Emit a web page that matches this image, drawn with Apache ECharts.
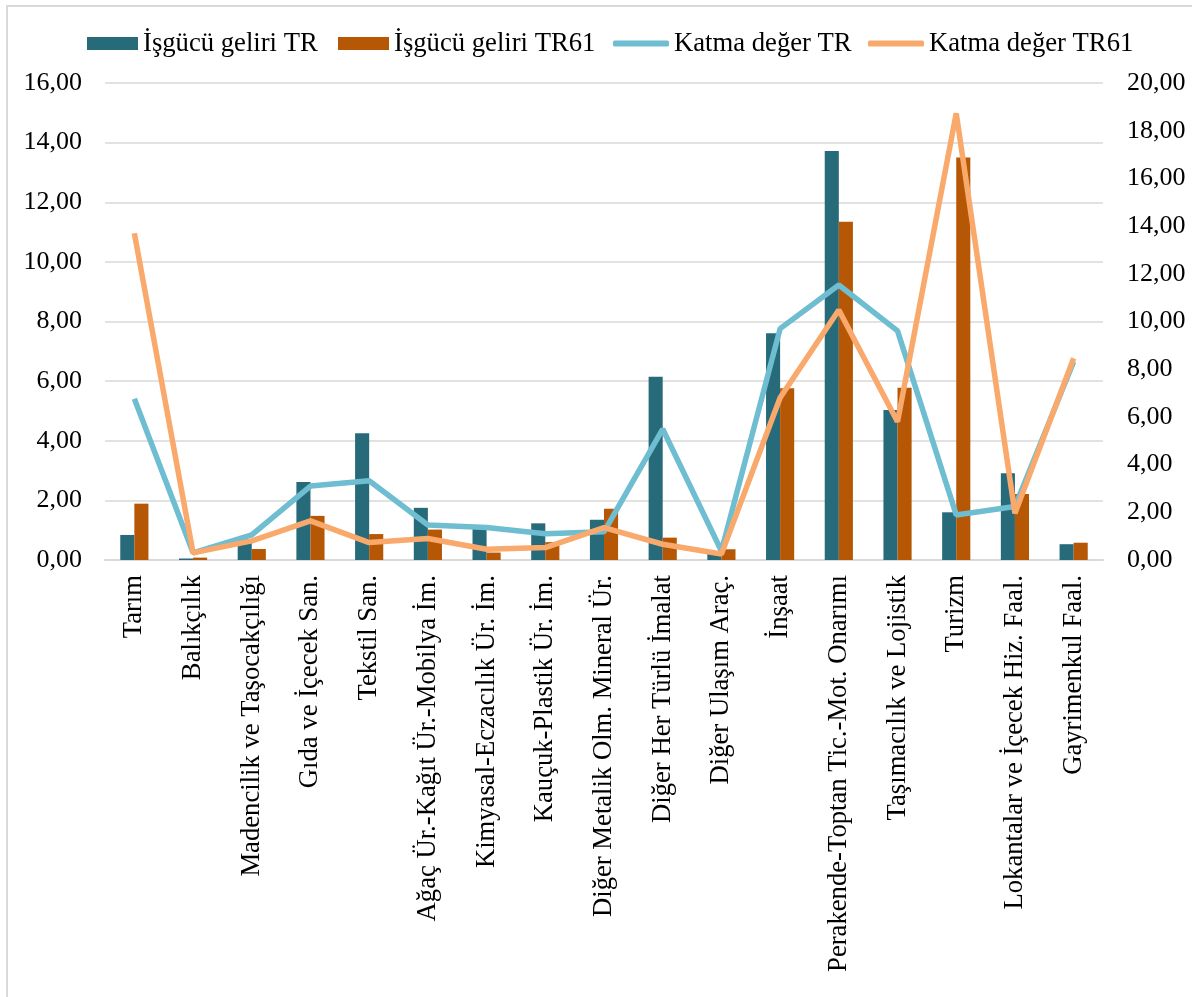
<!DOCTYPE html>
<html>
<head>
<meta charset="utf-8">
<script src="https://cdn.jsdelivr.net/npm/echarts@6/dist/echarts.min.js"></script>
<style>
  html, body { margin: 0; padding: 0; background: #fff; }
  #frame { position: absolute; left: 6px; top: 5px; width: 1200px; height: 1000px; border: 2px solid #d9d9d9; box-sizing: border-box; }
  #chart { position: absolute; left: 0; top: 0; width: 1192px; height: 997px; }
</style>
</head>
<body>
<div id="frame"></div>
<div id="chart"></div>
<script>
const categories = [
  "Tarım", "Balıkçılık", "Madencilik ve Taşocakçılığı", "Gıda ve İçecek San.",
  "Tekstil San.", "Ağaç Ür.-Kağıt Ür.-Mobilya İm.", "Kimyasal-Eczacılık Ür. İm.",
  "Kauçuk-Plastik Ür. İm.", "Diğer Metalik Olm. Mineral Ür.", "Diğer Her Türlü İmalat",
  "Diğer Ulaşım Araç.", "İnşaat", "Perakende-Toptan Tic.-Mot. Onarımı",
  "Taşımacılık ve Lojistik", "Turizm", "Lokantalar ve İçecek Hiz. Faal.", "Gayrimenkul Faal."
];
const seriesNames = ['İşgücü geliri TR', 'İşgücü geliri TR61', 'Katma değer TR', 'Katma değer TR61'];
const isgucuTR   = [0.84, 0.05, 0.70, 2.62, 4.25, 1.75, 1.09, 1.23, 1.35, 6.15, 0.22, 7.61, 13.72, 5.03, 1.60, 2.91, 0.53];
const isgucuTR61 = [1.89, 0.08, 0.37, 1.48, 0.87, 1.02, 0.25, 0.60, 1.72, 0.75, 0.36, 5.76, 11.35, 5.78, 13.50, 2.21, 0.58];
const katmaTR    = [6.76, 0.30, 1.05, 3.10, 3.32, 1.47, 1.36, 1.10, 1.18, 5.49, 0.38, 9.70, 11.53, 9.61, 1.89, 2.24, 8.31];
const katmaTR61  = [13.70, 0.30, 0.80, 1.64, 0.73, 0.90, 0.45, 0.52, 1.36, 0.66, 0.25, 6.80, 10.48, 5.80, 18.73, 1.96, 8.46];
const leftTicks  = { min: 0, max: 16, interval: 2 };
const rightTicks = { min: 0, max: 20, interval: 2 };

const colors = ['#276B7B', '#B65705', '#6EBDD1', '#F9A96B'];
const font = "'Liberation Serif', 'Times New Roman', serif";
const fmt = v => v.toFixed(2).replace('.', ',');
const legendLeft = [87, 338, 613, 868];

function makeLegend(i) {
  const isLine = i >= 2;
  return {
    left: legendLeft[i], top: 30, padding: 0,
    itemWidth: isLine ? 56 : 51, itemHeight: isLine ? 6 : 13, itemGap: 0,
    textStyle: { fontFamily: font, fontSize: 26.67, color: '#000' },
    data: [{ name: seriesNames[i], icon: isLine ? 'roundRect' : 'rect' }]
  };
}

const chart = echarts.init(document.getElementById('chart'), null, { renderer: 'canvas' });
chart.setOption({
  animation: false,
  textStyle: { fontFamily: font, color: '#000' },
  legend: [0, 1, 2, 3].map(makeLegend),
  grid: { left: 105, right: 89, top: 83, bottom: 437, containLabel: false },
  xAxis: {
    type: 'category', data: categories,
    axisLine: { lineStyle: { color: '#d9d9d9', width: 2 } },
    axisTick: { show: false },
    axisLabel: { interval: 0, rotate: 90, margin: 15, fontFamily: font, fontSize: 26.67, color: '#000' }
  },
  yAxis: [
    {
      type: 'value', min: leftTicks.min, max: leftTicks.max, interval: leftTicks.interval,
      axisLine: { show: false }, axisTick: { show: false },
      splitLine: { lineStyle: { color: '#d9d9d9', width: 1.5 } },
      axisLabel: { formatter: fmt, margin: 23, fontFamily: font, fontSize: 26, color: '#000' }
    },
    {
      type: 'value', min: rightTicks.min, max: rightTicks.max, interval: rightTicks.interval,
      axisLine: { show: false }, axisTick: { show: false },
      splitLine: { show: false },
      axisLabel: { formatter: fmt, margin: 24, fontFamily: font, fontSize: 26, color: '#000' }
    }
  ],
  series: [
    { name: seriesNames[0], type: 'bar', data: isgucuTR, barGap: '0%', barCategoryGap: '52%',
      itemStyle: { color: colors[0] } },
    { name: seriesNames[1], type: 'bar', data: isgucuTR61, barGap: '0%', barCategoryGap: '52%',
      itemStyle: { color: colors[1] } },
    { name: seriesNames[2], type: 'line', yAxisIndex: 1, data: katmaTR, symbol: 'none',
      lineStyle: { color: colors[2], width: 5.5 }, itemStyle: { color: colors[2] } },
    { name: seriesNames[3], type: 'line', yAxisIndex: 1, data: katmaTR61, symbol: 'none',
      lineStyle: { color: colors[3], width: 5.5 }, itemStyle: { color: colors[3] } }
  ]
});
</script>
</body>
</html>
